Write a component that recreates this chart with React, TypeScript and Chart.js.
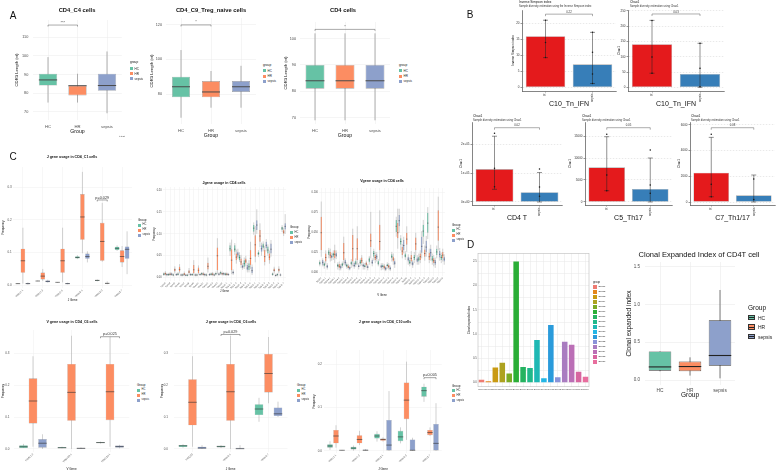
import React, { useEffect, useRef } from 'react';
import { Chart, registerables } from 'chart.js';

Chart.register(...registerables);

const FONT = "'Liberation Sans', Arial, Helvetica, sans-serif";
Chart.defaults.font.family = FONT;

// ---------------- shared ----------------
const GROUPS = ['HC', 'HR', 'sepsis'];
const GROUP_COLORS = ['#66C2A5', '#FC8D62', '#8DA0CB'];

// ---------------- Panel A (box = [lo, q1, median, q3, hi]) ----------------
const aCats = ['HC', 'HR', 'sepsis'];
const a1Boxes = [[75.0, 84.1, 87.1, 90.4, 99.3], [75.0, 78.8, 84.0, 84.1, 90.4], [69.3, 81.3, 84.1, 90.4, 102.3]];
const a1Ticks = [70, 80, 90, 100, 110];
const a1Sig = [{ from: [0, 0], to: [0, 1], y: 116.4, text: '***' }];
const a2Boxes = [[66.3, 78.1, 84.2, 90.0, 105.4], [72.1, 78.1, 81.2, 87.5, 93.3], [72.1, 81.2, 84.2, 87.5, 96.3]];
const a2Ticks = [80, 100, 120];
const a2Sig = [{ from: [0, 0], to: [0, 1], y: 119.9, text: '*' }];
const a3Boxes = [[69, 81, 84, 90, 102], [69, 81, 84, 90, 102], [69, 81, 84, 90, 102]];
const a3Ticks = [70, 80, 90, 100];
const a3Sig = [{ from: [0, 0], to: [0, 2], y: 103.5, text: '*' }];

// ---------------- Panel B ----------------
const bCats = ['R', 'sepsis'];
const b1Mean = [16, 7.2];
const b1Lo = [9.3, 1.2];
const b1Hi = [21, 17.2];
const b1PtsR = [21, 14, 9.3];
const b1PtsS = [17.2, 11, 4.2, 1.2];
const b1Ticks = [0, 5, 10, 15, 20];
const b1Sig = [{ from: [0, 0], to: [0, 1], y: 22.9, text: '0.22' }];

const b2Mean = [141, 43.5];
const b2Lo = [46, 0];
const b2Hi = [219, 144];
const b2PtsR = [219, 99, 46];
const b2PtsS = [144, 62, 2];
const b2Ticks = [0, 50, 100, 150, 200, 250];
const b2Sig = [{ from: [0, 0], to: [0, 1], y: 240, text: '0.03' }];

const b3Mean = [114000, 34000];
const b3Lo = [44000, 0];
const b3Hi = [228000, 102000];
const b3PtsR = [238000, 117000, 53000];
const b3PtsS = [114000, 52000, 20000];
const b3Ticks = [0, 100000, 200000];
const b3Labels = ['0e+00', '1e+05', '2e+05'];
const b3Sig = [{ from: [0, 0], to: [0, 1], y: 257500, text: '0.02' }];

const b4Mean = [7890, 2950];
const b4Lo = [2570, 0];
const b4Hi = [14840, 10000];
const b4PtsR = [15380, 6140, 2570];
const b4PtsS = [11800, 3860, 2000];
const b4Ticks = [0, 5000, 10000, 15000];
const b4Sig = [{ from: [0, 0], to: [0, 1], y: 16886, text: '0.05' }];

const b5Mean = [2280, 520];
const b5Lo = [410, 0];
const b5Hi = [5030, 2100];
const b5PtsR = [5270, 1380, 410];
const b5PtsS = [1800, 200];
const b5Ticks = [0, 2000, 4000, 6000];
const b5Sig = [{ from: [0, 0], to: [0, 1], y: 5782, text: '0.08' }];

// ---------------- Panel C ----------------
const c1Cats = ['TRBJ1-1', 'TRBJ1-2', 'TRBJ1-5', 'TRBJ2-1', 'TRBJ2-3', 'TRBJ2-7'];
const c1HC = [[0.004, 0.005, 0.005, 0.006, 0.007], [0.012, 0.013, 0.013, 0.014, 0.015], [0.008, 0.009, 0.009, 0.010, 0.010], [0.080, 0.082, 0.085, 0.089, 0.092], [0.012, 0.013, 0.015, 0.016, 0.018], [0.105, 0.108, 0.113, 0.118, 0.122]];
const c1HR = [[0.005, 0.038, 0.075, 0.112, 0.176], [0.013, 0.018, 0.028, 0.039, 0.050], [0.009, 0.038, 0.075, 0.112, 0.176], [0.098, 0.139, 0.209, 0.279, 0.347], [0.072, 0.075, 0.134, 0.191, 0.252], [0.056, 0.070, 0.088, 0.107, 0.120]];
const c1SE = [[0.002, 0.004, 0.005, 0.007, 0.009], [0.008, 0.009, 0.012, 0.015, 0.017], [0.003, 0.004, 0.005, 0.007, 0.008], [0.070, 0.081, 0.088, 0.097, 0.104], [0.003, 0.005, 0.006, 0.007, 0.012], [0.034, 0.081, 0.110, 0.119, 0.165]];
const c1Ticks = [0, 0.1, 0.2, 0.3];
const c1Labels = ['0.0', '0.1', '0.2', '0.3'];
const c1Sig = [{ from: [0, 4], to: [2, 4], y: 0.261, text: 'p=0.029' }];

const c2Cats = ['TRAJ3', 'TRAJ4', 'TRAJ5', 'TRAJ6', 'TRAJ7', 'TRAJ8', 'TRAJ9', 'TRAJ10', 'TRAJ11', 'TRAJ12', 'TRAJ13', 'TRAJ15', 'TRAJ16', 'TRBJ1-1', 'TRBJ1-2', 'TRBJ1-3', 'TRBJ1-4', 'TRBJ1-5', 'TRBJ1-6', 'TRBJ2-1', 'TRBJ2-2', 'TRBJ2-3', 'TRBJ2-4', 'TRBJ2-5', 'TRBJ2-6', 'TRBJ2-7'];
const c2HC = [[0.004, 0.006, 0.008, 0.010, 0.012], [0.004, 0.005, 0.007, 0.009, 0.011], [0.003, 0.005, 0.006, 0.008, 0.010], [0.004, 0.006, 0.008, 0.010, 0.013], [0.003, 0.005, 0.006, 0.008, 0.010], [0.003, 0.004, 0.006, 0.007, 0.009], [0.004, 0.005, 0.007, 0.009, 0.011], [0.003, 0.005, 0.006, 0.008, 0.010], [0.005, 0.007, 0.009, 0.011, 0.013], [0.003, 0.005, 0.006, 0.008, 0.010], [0.004, 0.006, 0.008, 0.010, 0.012], [0.005, 0.007, 0.009, 0.011, 0.014], [0.006, 0.009, 0.011, 0.013, 0.016], [0.004, 0.006, 0.008, 0.010, 0.012], [0.050, 0.060, 0.066, 0.074, 0.080], [0.052, 0.059, 0.065, 0.074, 0.079], [0.036, 0.040, 0.046, 0.052, 0.058], [0.020, 0.025, 0.032, 0.040, 0.046], [0.012, 0.017, 0.025, 0.033, 0.040], [0.098, 0.105, 0.113, 0.120, 0.126], [0.047, 0.052, 0.055, 0.059, 0.063], [0.060, 0.067, 0.072, 0.078, 0.083], [0.050, 0.055, 0.063, 0.071, 0.076], [0.004, 0.006, 0.008, 0.010, 0.012], [0.003, 0.005, 0.007, 0.009, 0.011], [0.104, 0.109, 0.113, 0.116, 0.120]];
const c2HR = [[0.005, 0.007, 0.009, 0.012, 0.015], [0.004, 0.006, 0.008, 0.010, 0.013], [0.010, 0.014, 0.018, 0.021, 0.026], [0.010, 0.014, 0.019, 0.025, 0.031], [0.004, 0.006, 0.008, 0.011, 0.014], [0.006, 0.010, 0.013, 0.017, 0.022], [0.005, 0.010, 0.018, 0.029, 0.040], [0.007, 0.011, 0.017, 0.023, 0.028], [0.004, 0.006, 0.008, 0.010, 0.013], [0.012, 0.019, 0.026, 0.034, 0.046], [0.004, 0.006, 0.008, 0.010, 0.013], [0.008, 0.017, 0.050, 0.069, 0.090], [0.005, 0.007, 0.009, 0.011, 0.014], [0.004, 0.006, 0.008, 0.010, 0.012], [0.008, 0.017, 0.040, 0.065, 0.087], [0.032, 0.040, 0.047, 0.055, 0.064], [0.022, 0.029, 0.036, 0.044, 0.052], [0.026, 0.033, 0.038, 0.044, 0.050], [0.020, 0.029, 0.044, 0.063, 0.082], [0.035, 0.048, 0.075, 0.097, 0.118], [0.070, 0.082, 0.095, 0.109, 0.124], [0.028, 0.036, 0.048, 0.063, 0.072], [0.032, 0.040, 0.047, 0.055, 0.062], [0.010, 0.014, 0.017, 0.021, 0.025], [0.010, 0.014, 0.018, 0.021, 0.026], [0.095, 0.100, 0.104, 0.109, 0.114]];
const c2SE = [[0.003, 0.005, 0.007, 0.009, 0.011], [0.004, 0.006, 0.008, 0.010, 0.012], [0.004, 0.005, 0.007, 0.009, 0.011], [0.003, 0.005, 0.006, 0.008, 0.010], [0.003, 0.004, 0.006, 0.007, 0.009], [0.004, 0.005, 0.007, 0.009, 0.011], [0.003, 0.005, 0.006, 0.008, 0.010], [0.004, 0.006, 0.007, 0.009, 0.011], [0.003, 0.005, 0.007, 0.009, 0.011], [0.004, 0.005, 0.007, 0.009, 0.011], [0.003, 0.005, 0.006, 0.008, 0.010], [0.004, 0.006, 0.008, 0.010, 0.012], [0.005, 0.007, 0.009, 0.011, 0.013], [0.004, 0.006, 0.007, 0.009, 0.011], [0.006, 0.009, 0.012, 0.015, 0.019], [0.043, 0.048, 0.054, 0.059, 0.066], [0.018, 0.022, 0.025, 0.029, 0.033], [0.012, 0.017, 0.022, 0.029, 0.034], [0.006, 0.010, 0.016, 0.025, 0.030], [0.100, 0.109, 0.120, 0.131, 0.156], [0.050, 0.059, 0.066, 0.074, 0.080], [0.060, 0.067, 0.074, 0.082, 0.088], [0.048, 0.055, 0.065, 0.078, 0.086], [0.002, 0.004, 0.005, 0.007, 0.009], [0.003, 0.005, 0.006, 0.008, 0.010], [0.100, 0.110, 0.117, 0.124, 0.145]];
const c2Ticks = [0, 0.05, 0.1, 0.15, 0.2];
const c2Labels = ['0.00', '0.05', '0.10', '0.15', '0.20'];

const c3Cats = ['TRBV2', 'TRBV3-1', 'TRBV4-1', 'TRBV4-2', 'TRBV4-3', 'TRBV5-1', 'TRBV5-4', 'TRBV5-5', 'TRBV5-6', 'TRBV6-1', 'TRBV6-2', 'TRBV6-4', 'TRBV6-5', 'TRBV6-6', 'TRBV7-2', 'TRBV7-3', 'TRBV7-6', 'TRBV7-8', 'TRBV7-9', 'TRBV9', 'TRBV10-3', 'TRBV11-2', 'TRBV12-3', 'TRBV12-4', 'TRBV13', 'TRBV14', 'TRBV15', 'TRBV18'];
const c3HC = [[0.008, 0.010, 0.012, 0.014, 0.016], [0.005, 0.008, 0.010, 0.012, 0.014], [0.018, 0.022, 0.025, 0.028, 0.031], [0.016, 0.020, 0.023, 0.025, 0.028], [0.004, 0.007, 0.009, 0.011, 0.013], [0.006, 0.008, 0.010, 0.012, 0.014], [0.005, 0.007, 0.009, 0.011, 0.013], [0.006, 0.010, 0.012, 0.014, 0.017], [0.007, 0.010, 0.012, 0.015, 0.018], [0.008, 0.011, 0.013, 0.016, 0.018], [0.004, 0.007, 0.008, 0.010, 0.012], [0.010, 0.013, 0.016, 0.019, 0.021], [0.015, 0.020, 0.024, 0.027, 0.030], [0.008, 0.010, 0.012, 0.015, 0.017], [0.004, 0.007, 0.008, 0.010, 0.012], [0.005, 0.008, 0.009, 0.011, 0.013], [0.014, 0.018, 0.020, 0.023, 0.026], [0.045, 0.051, 0.058, 0.066, 0.070], [0.028, 0.035, 0.039, 0.043, 0.047], [0.016, 0.019, 0.021, 0.024, 0.027], [0.008, 0.011, 0.013, 0.016, 0.019], [0.012, 0.016, 0.019, 0.022, 0.026], [0.010, 0.014, 0.017, 0.020, 0.024], [0.036, 0.045, 0.052, 0.060, 0.066], [0.042, 0.050, 0.062, 0.075, 0.082], [0.010, 0.014, 0.017, 0.021, 0.024], [0.018, 0.022, 0.026, 0.030, 0.034], [0.012, 0.016, 0.019, 0.022, 0.025]];
const c3HR = [[0.020, 0.028, 0.050, 0.070, 0.089], [0.010, 0.014, 0.019, 0.024, 0.028], [0.014, 0.018, 0.022, 0.026, 0.030], [0.012, 0.018, 0.023, 0.028, 0.035], [0.003, 0.006, 0.008, 0.011, 0.014], [0.010, 0.016, 0.025, 0.037, 0.045], [0.004, 0.006, 0.007, 0.009, 0.011], [0.008, 0.014, 0.030, 0.047, 0.055], [0.010, 0.016, 0.030, 0.043, 0.058], [0.009, 0.012, 0.015, 0.019, 0.022], [0.006, 0.009, 0.011, 0.013, 0.015], [0.018, 0.032, 0.040, 0.049, 0.076], [0.012, 0.016, 0.019, 0.022, 0.026], [0.015, 0.028, 0.039, 0.060, 0.078], [0.003, 0.005, 0.007, 0.009, 0.011], [0.004, 0.006, 0.008, 0.010, 0.012], [0.010, 0.014, 0.017, 0.020, 0.024], [0.030, 0.043, 0.050, 0.062, 0.080], [0.018, 0.022, 0.027, 0.032, 0.036], [0.026, 0.035, 0.042, 0.050, 0.058], [0.010, 0.014, 0.018, 0.022, 0.027], [0.020, 0.028, 0.036, 0.044, 0.050], [0.012, 0.016, 0.020, 0.024, 0.028], [0.015, 0.020, 0.024, 0.029, 0.034], [0.012, 0.016, 0.020, 0.025, 0.030], [0.008, 0.012, 0.015, 0.018, 0.022], [0.028, 0.040, 0.057, 0.078, 0.095], [0.014, 0.018, 0.022, 0.026, 0.030]];
const c3SE = [[0.008, 0.010, 0.013, 0.016, 0.018], [0.004, 0.006, 0.008, 0.010, 0.012], [0.015, 0.018, 0.020, 0.022, 0.025], [0.017, 0.020, 0.022, 0.025, 0.028], [0.003, 0.005, 0.007, 0.009, 0.011], [0.008, 0.010, 0.013, 0.016, 0.018], [0.003, 0.004, 0.006, 0.007, 0.009], [0.005, 0.007, 0.009, 0.012, 0.014], [0.004, 0.007, 0.008, 0.010, 0.012], [0.004, 0.007, 0.009, 0.011, 0.013], [0.003, 0.006, 0.007, 0.009, 0.011], [0.008, 0.011, 0.013, 0.016, 0.018], [0.014, 0.017, 0.020, 0.023, 0.026], [0.003, 0.006, 0.008, 0.010, 0.012], [0.002, 0.003, 0.005, 0.007, 0.008], [0.002, 0.004, 0.005, 0.007, 0.009], [0.006, 0.010, 0.012, 0.015, 0.018], [0.050, 0.058, 0.065, 0.072, 0.080], [0.024, 0.028, 0.034, 0.041, 0.045], [0.010, 0.014, 0.017, 0.020, 0.023], [0.006, 0.009, 0.011, 0.014, 0.016], [0.010, 0.013, 0.016, 0.019, 0.022], [0.018, 0.025, 0.033, 0.045, 0.052], [0.020, 0.026, 0.032, 0.040, 0.046], [0.015, 0.020, 0.025, 0.030, 0.035], [0.006, 0.010, 0.013, 0.016, 0.019], [0.015, 0.019, 0.023, 0.027, 0.031], [0.010, 0.014, 0.017, 0.020, 0.023]];
const c3Ticks = [0, 0.025, 0.05, 0.075, 0.1];
const c3Labels = ['0.000', '0.025', '0.050', '0.075', '0.100'];

const c4Cats = ['TRAV1-2', 'TRBV20-1', 'TRBV29-1'];
const c4HC = [[0.003, 0.003, 0.007, 0.012, 0.016], [0.002, 0.002, 0.004, 0.006, 0.007], [0.017, 0.019, 0.020, 0.022, 0.023]];
const c4HR = [[0.007, 0.080, 0.150, 0.221, 0.290], [0.000, 0.088, 0.177, 0.266, 0.354], [0.007, 0.090, 0.179, 0.266, 0.350]];
const c4SE = [[0.000, 0.004, 0.018, 0.031, 0.046], [0.000, 0.001, 0.002, 0.004, 0.005], [0.002, 0.004, 0.008, 0.011, 0.013]];
const c4Sig = [{ from: [0, 2], to: [2, 2], y: 0.351, text: 'p=0.025' }];

const c5Cats = ['TRAJ30', 'TRBJ2-1', 'TRBJ2-7'];
const c5HC = [[0.004, 0.006, 0.010, 0.0125, 0.015], [0.003, 0.005, 0.008, 0.010, 0.012], [0.085, 0.106, 0.125, 0.140, 0.160]];
const c5HR = [[0.007, 0.074, 0.146, 0.218, 0.290], [0.000, 0.088, 0.179, 0.266, 0.354], [0.143, 0.177, 0.236, 0.297, 0.350]];
const c5SE = [[0.000, 0.000, 0.003, 0.007, 0.012], [0.000, 0.000, 0.001, 0.004, 0.012], [0.100, 0.103, 0.110, 0.130, 0.148]];
const c5Sig = [{ from: [0, 1], to: [2, 1], y: 0.358, text: 'p=0.029' }];
const c45Ticks = [0, 0.1, 0.2, 0.3];
const c45Labels = ['0.0', '0.1', '0.2', '0.3'];

const c6Cats = ['TRBJ1-1', 'TRBJ1-2', 'TRBJ2-1', 'TRBJ2-3', 'TRBJ2-7'];
const c6HC = [[0.002, 0.007, 0.011, 0.015, 0.022], [0.000, 0.003, 0.006, 0.009, 0.012], [0.021, 0.028, 0.034, 0.039, 0.045], [0.017, 0.022, 0.032, 0.046, 0.054], [0.113, 0.125, 0.139, 0.148, 0.155]];
const c6HR = [[0.007, 0.017, 0.034, 0.048, 0.059], [0.013, 0.017, 0.026, 0.036, 0.046], [0.021, 0.023, 0.026, 0.028, 0.031], [0.025, 0.073, 0.117, 0.158, 0.206], [0.034, 0.036, 0.042, 0.048, 0.054]];
const c6SE = [[0.000, 0.000, 0.001, 0.001, 0.002], [0.000, 0.000, 0.001, 0.003, 0.004], [0.000, 0.000, 0.013, 0.071, 0.138], [0.000, 0.000, 0.001, 0.026, 0.030], [0.000, 0.000, 0.017, 0.062, 0.110]];
const c6Ticks = [0, 0.1, 0.2];
const c6Labels = ['0.0', '0.1', '0.2'];
const c6Sig = [{ from: [0, 4], to: [2, 4], y: 0.169, text: 'p=0.005' }];

// ---------------- Panel D ----------------
const d1Labels = ['S0001', 'S0002', 'S0003', 'S0004', 'S0005', 'S0006', 'S0007', 'S0008', 'S0009', 'S0010', 'S0011', 'S0012', 'S0013', 'S0014', 'S0015', 'S0016'];
const d1Values = [0.055, 0.027, 0.31, 0.41, 0.185, 2.5, 0.32, 0.30, 0.88, 0.09, 1.19, 0.11, 0.84, 0.78, 0.22, 0.12];
const d1Colors = ['#EE7B72', '#E3861C', '#C99A12', '#ADA220', '#7AAA25', '#2AAE36', '#25B360', '#20B88A', '#1EB8B4', '#23B6E5', '#2A9BDB', '#8A93D9', '#A97CC0', '#BB6FB6', '#D7659F', '#E86E9E'];
const d1Ticks = [0, 0.25, 0.5, 0.75, 1, 1.25, 1.5, 1.75, 2, 2.25, 2.5];
const d1TickLabels = ['0.0', '', '0.5', '', '1.0', '', '1.5', '', '2.0', '', '2.5'];

const d2Boxes = [[0.115, 0.124, 0.173, 0.378, 0.378], [0.058, 0.115, 0.178, 0.244, 0.30], [0.022, 0.19, 0.324, 0.79, 1.19]];
const d2Ticks = [0, 0.5, 1, 1.5];
const d2Labels = ['0.0', '0.5', '1.0', '1.5'];

// ---------------- plugins ----------------
function boxPlugin(st: any) {
  return {
    id: 'boxw',
    beforeDatasetsDraw(chart: any) {
      const ctx = chart.ctx;
      const ys = chart.scales.y;
      ctx.save();
      ctx.strokeStyle = st.whisker;
      ctx.lineWidth = st.whiskerW;
      chart.data.datasets.forEach((ds: any, di: number) => {
        if (!ds.boxes) return;
        chart.getDatasetMeta(di).data.forEach((el: any, i: number) => {
          const b = ds.boxes[i];
          ctx.beginPath();
          ctx.moveTo(el.x, ys.getPixelForValue(b[0]));
          ctx.lineTo(el.x, ys.getPixelForValue(b[4]));
          ctx.stroke();
        });
      });
      ctx.restore();
    },
    afterDatasetsDraw(chart: any) {
      const ctx = chart.ctx;
      const ys = chart.scales.y;
      ctx.save();
      ctx.strokeStyle = st.median;
      ctx.lineWidth = st.medianW;
      chart.data.datasets.forEach((ds: any, di: number) => {
        if (!ds.boxes) return;
        chart.getDatasetMeta(di).data.forEach((el: any, i: number) => {
          const b = ds.boxes[i];
          const y = ys.getPixelForValue(b[2]);
          ctx.beginPath();
          ctx.moveTo(el.x - el.width / 2, y);
          ctx.lineTo(el.x + el.width / 2, y);
          ctx.stroke();
        });
      });
      ctx.restore();
    },
  };
}

function sigPlugin(items: any[], st: any) {
  return {
    id: 'sig',
    afterDatasetsDraw(chart: any) {
      const ctx = chart.ctx;
      const ys = chart.scales.y;
      ctx.save();
      ctx.strokeStyle = st.color;
      ctx.fillStyle = st.color;
      ctx.lineWidth = st.width;
      ctx.font = `${st.font}px ${FONT}`;
      ctx.textAlign = 'center';
      ctx.textBaseline = 'bottom';
      items.forEach((it) => {
        const x0 = chart.getDatasetMeta(it.from[0]).data[it.from[1]].x;
        const x1 = chart.getDatasetMeta(it.to[0]).data[it.to[1]].x;
        const y = ys.getPixelForValue(it.y);
        ctx.beginPath();
        ctx.moveTo(x0, y + st.drop);
        ctx.lineTo(x0, y);
        ctx.lineTo(x1, y);
        ctx.lineTo(x1, y + st.drop);
        ctx.stroke();
        ctx.fillText(it.text, (x0 + x1) / 2, y - st.gap);
      });
      ctx.restore();
    },
  };
}

function errPlugin(lo: number[], hi: number[], st: any) {
  return {
    id: 'errbar',
    afterDatasetsDraw(chart: any) {
      const ctx = chart.ctx;
      const ys = chart.scales.y;
      ctx.save();
      ctx.strokeStyle = st.color;
      ctx.lineWidth = st.width;
      chart.getDatasetMeta(0).data.forEach((el: any, i: number) => {
        const y0 = ys.getPixelForValue(lo[i]);
        const y1 = ys.getPixelForValue(hi[i]);
        ctx.beginPath();
        ctx.moveTo(el.x, y0);
        ctx.lineTo(el.x, y1);
        ctx.moveTo(el.x - st.cap, y0);
        ctx.lineTo(el.x + st.cap, y0);
        ctx.moveTo(el.x - st.cap, y1);
        ctx.lineTo(el.x + st.cap, y1);
        ctx.stroke();
      });
      ctx.restore();
    },
  };
}

function framePlugin(color: string, width: number) {
  return {
    id: 'frame',
    afterDraw(chart: any) {
      const { left, top, right, bottom } = chart.chartArea;
      const ctx = chart.ctx;
      ctx.save();
      ctx.strokeStyle = color;
      ctx.lineWidth = width;
      ctx.strokeRect(left, top, right - left, bottom - top);
      ctx.restore();
    },
  };
}

// ---------------- axes builder ----------------
function axes(g: any, a: any) {
  const f = (size: number) => ({ size, family: FONT });
  const tickLen = a.tickLen || 0;
  return {
    x: {
      type: 'category',
      offset: true,
      grid: {
        display: !!a.gridX || tickLen > 0,
        drawOnChartArea: !!a.gridX,
        color: a.gridColor,
        lineWidth: a.gridW,
        offset: false,
        drawTicks: tickLen > 0,
        tickLength: tickLen,
        tickColor: a.axisColor,
        tickWidth: 0.5,
      },
      border: { display: !!a.axisLine, color: a.axisColor, width: 0.6 },
      ticks: {
        autoSkip: false,
        minRotation: a.xRot || 0,
        maxRotation: a.xRot || 0,
        padding: a.xPad,
        color: a.tickColor,
        font: f(a.xFont),
      },
      title: {
        display: !!a.xTitle,
        text: a.xTitle || '',
        color: '#111',
        font: f(a.xTitleFont || 5),
        padding: { top: 0, bottom: a.xTitlePad || 0 },
      },
      afterFit: (sc: any) => {
        sc.height = g.xH;
      },
    },
    y: {
      type: 'linear',
      min: a.ymin,
      max: a.ymax,
      afterBuildTicks: (sc: any) => {
        sc.ticks = a.yTicks.map((v: number) => ({ value: v }));
      },
      grid: {
        display: true,
        drawOnChartArea: a.gridY !== false,
        color: a.gridColor,
        lineWidth: a.gridW,
        drawTicks: tickLen > 0,
        tickLength: tickLen,
        tickColor: a.axisColor,
        tickWidth: 0.5,
      },
      border: { display: !!a.axisLine, color: a.axisColor, width: 0.6, dash: a.gridDash || [] },
      ticks: {
        padding: a.yPad,
        color: a.tickColor,
        font: f(a.yFont),
        callback: (v: number) => {
          const i = a.yTicks.indexOf(v);
          return i >= 0 ? a.yLabels[i] : '';
        },
      },
      title: {
        display: !!a.yTitle,
        text: a.yTitle || '',
        color: '#111',
        font: f(a.yTitleFont || 4),
        padding: { top: a.yTitlePad || 0, bottom: 0 },
      },
      afterFit: (sc: any) => {
        sc.width = g.yW;
      },
    },
  };
}

function boxChart(g: any, s: any) {
  const datasets = s.series.map((se: any) => ({
    label: se.name,
    data: se.boxes.map((b: number[]) => [b[1], b[3]]),
    boxes: se.boxes,
    backgroundColor: se.color,
    borderColor: s.style.border,
    borderWidth: s.style.borderW,
    borderSkipped: false,
    categoryPercentage: s.catPct,
    barPercentage: s.barPct,
  }));
  const plugins: any[] = [boxPlugin(s.style)];
  if (s.sig) plugins.push(sigPlugin(s.sig, s.sigStyle));
  return {
    type: 'bar',
    data: { labels: s.cats, datasets },
    options: { scales: axes(g, s.axes), plugins: { legend: { display: false }, tooltip: { enabled: false } } },
    plugins,
  };
}

function barErrChart(g: any, s: any) {
  const pts = [
    ...s.ptsR.map((v: number) => ({ x: bCats[0], y: v })),
    ...s.ptsS.map((v: number) => ({ x: bCats[1], y: v })),
  ];
  return {
    type: 'bar',
    data: {
      labels: bCats,
      datasets: [
        {
          type: 'bar',
          data: s.mean,
          backgroundColor: ['#E41A1C', '#377EB8'],
          borderColor: '#A8A8A8',
          borderWidth: 0.6,
          borderSkipped: false,
          categoryPercentage: 1,
          barPercentage: 0.84,
          order: 2,
        },
        {
          type: 'line',
          data: pts,
          showLine: false,
          pointRadius: 0.75,
          pointBorderWidth: 0,
          pointBackgroundColor: '#111',
          order: 1,
        },
      ],
    },
    options: { scales: axes(g, s.axes), plugins: { legend: { display: false }, tooltip: { enabled: false } } },
    plugins: [errPlugin(s.lo, s.hi, { color: '#222', width: 0.5, cap: 2.5 }), sigPlugin(s.sig, B_SIG)],
  };
}

// ---------------- styles ----------------
const A_STYLE = { border: 'rgba(90,90,90,0.55)', borderW: 0.6, median: '#4A4A4A', medianW: 1.0, whisker: '#9A9A9A', whiskerW: 0.8 };
const A_SIG = { color: '#555', width: 0.5, drop: 1.5, gap: 0.6, font: 4 };
const A_AX = { gridX: true, gridColor: '#EBEBEB', gridW: 0.5, axisColor: '#333', tickColor: '#4D4D4D', xFont: 4.2, xTitle: 'Group', xTitleFont: 5.2, xTitlePad: 0.9, yFont: 3.8, yTitle: 'CDR3 Length (nt)', yTitleFont: 4.2 };

const B_SIG = { color: '#333', width: 0.4, drop: 2, gap: 0.6, font: 2.8 };
const B_AX = { gridX: false, gridColor: '#C8C8C8', gridW: 0.4, gridDash: [1.5, 1.5], axisLine: true, axisColor: '#333', tickLen: 1.5, tickColor: '#333', xRot: 90, xFont: 3, xPad: 1, xTitleFont: 7, xTitlePad: 0.5, yFont: 3, yPad: 1, yTitleFont: 3, yTitlePad: 2.2 };

const C_STYLE = { border: 'rgba(80,80,80,0.6)', borderW: 0.35, median: '#333', medianW: 0.6, whisker: '#9A9A9A', whiskerW: 0.45 };
const C_SIG = { color: '#333', width: 0.45, drop: 1.5, gap: 0.6, font: 3.8 };
const C_AX = { gridX: true, gridColor: '#EEEEEE', gridW: 0.5, axisColor: '#333', tickColor: '#4D4D4D', xRot: 45, xFont: 2.5, xPad: 1, xTitleFont: 3, yFont: 3, yTitle: 'Frequency', yTitleFont: 3 };

const D2_STYLE = { border: '#333', borderW: 0.7, median: '#222', medianW: 1.1, whisker: '#444', whiskerW: 0.7 };

// ---------------- components ----------------
function ChartCanvas({ plot, yW, xH, padT = 8, padR = 6, build }: any) {
  const ref = useRef<HTMLCanvasElement>(null);
  const left = Math.floor(plot.l - yW);
  const top = Math.floor(plot.t - padT);
  const width = Math.ceil(plot.r + padR - left);
  const height = Math.ceil(plot.b + xH - top);
  const g = { yW: plot.l - left, xH: top + height - plot.b, padT: plot.t - top, padR: left + width - plot.r };
  useEffect(() => {
    const cfg: any = build(g);
    cfg.options = {
      ...cfg.options,
      responsive: false,
      maintainAspectRatio: false,
      animation: false,
      events: [],
      layout: { padding: { top: g.padT, right: g.padR, left: 0, bottom: 0 } },
    };
    const chart = new Chart(ref.current as HTMLCanvasElement, cfg);
    return () => chart.destroy();
  }, []);
  return (
    <canvas
      ref={ref}
      width={width}
      height={height}
      style={{ position: 'absolute', left, top, width, height }}
    />
  );
}

function Txt({ x, y, s, size, bold = false, align = 'center', color = '#111' }: any) {
  const tx = align === 'center' ? '-50%' : align === 'right' ? '-100%' : '0';
  return (
    <div
      style={{
        position: 'absolute',
        left: x,
        top: y,
        transform: `translate(${tx}, -50%)`,
        fontSize: size,
        fontWeight: bold ? 700 : 400,
        color,
        whiteSpace: 'nowrap',
        lineHeight: 1,
        fontFamily: FONT,
      }}
    >
      {s}
    </div>
  );
}

function Legend({ x, y, title, labels, colors, first, step, keyW, keyH, font, titleFont, dx, boxKey = false }: any) {
  return (
    <>
      <Txt x={x} y={y} s={title} size={titleFont} align="left" />
      {labels.map((lab: string, i: number) => {
        const cy = y + first + step * i;
        return (
          <React.Fragment key={lab + i}>
            <div
              style={{
                position: 'absolute',
                left: x,
                top: cy - keyH / 2,
                width: keyW,
                height: keyH,
                background: colors[i],
                border: boxKey ? '1px solid #333' : 'none',
                boxSizing: 'border-box',
              }}
            >
              {boxKey && (
                <div style={{ position: 'absolute', left: 0, right: 0, top: keyH / 2 - 1.5, height: 1, background: '#222' }} />
              )}
            </div>
            <Txt x={x + dx} y={cy} s={lab} size={font} align="left" color="#222" />
          </React.Fragment>
        );
      })}
    </>
  );
}

const groupSeries = (hc: number[][], hr: number[][], se: number[][]) => [
  { name: GROUPS[0], color: GROUP_COLORS[0], boxes: hc },
  { name: GROUPS[1], color: GROUP_COLORS[1], boxes: hr },
  { name: GROUPS[2], color: GROUP_COLORS[2], boxes: se },
];

export default function App() {
  const smallLegend = { labels: GROUPS, colors: GROUP_COLORS, first: 5.2, step: 5.2, keyW: 3.3, keyH: 3, font: 3, titleFont: 3.2, dx: 4.6 };
  const cLegend = { labels: GROUPS, colors: GROUP_COLORS, first: 5.2, step: 5, keyW: 3.3, keyH: 3, font: 2.6, titleFont: 3, dx: 4.6 };
  const denseStyle = { ...C_STYLE, borderW: 0.25, medianW: 0.45, whiskerW: 0.45 };
  return (
    <div style={{ position: 'absolute', left: 0, top: 0, width: 779, height: 471, background: '#fff', overflow: 'hidden', fontFamily: FONT }}>
      {/* ---------- Panel A ---------- */}
      <ChartCanvas
        plot={{ l: 33.25, r: 121.75, t: 20, b: 120 }}
        yW={21}
        xH={16}
        build={(g: any) =>
          boxChart(g, {
            cats: aCats,
            series: [{ name: 'group', color: GROUP_COLORS, boxes: a1Boxes }],
            catPct: 1,
            barPct: 0.62,
            style: A_STYLE,
            sig: a1Sig,
            sigStyle: A_SIG,
            axes: { ...A_AX, ymin: 65.7, ymax: 119.1, yTicks: a1Ticks, yLabels: a1Ticks.map(String), xPad: 4, yPad: 5, yTitlePad: 2.5 },
          })
        }
      />
      <ChartCanvas
        plot={{ l: 166, r: 256, t: 18, b: 124 }}
        yW={20}
        xH={16}
        build={(g: any) =>
          boxChart(g, {
            cats: aCats,
            series: [{ name: 'group', color: GROUP_COLORS, boxes: a2Boxes }],
            catPct: 1,
            barPct: 0.6,
            style: A_STYLE,
            sig: a2Sig,
            sigStyle: A_SIG,
            axes: { ...A_AX, ymin: 62.7, ymax: 123.9, yTicks: a2Ticks, yLabels: a2Ticks.map(String), xPad: 4.5, yPad: 4, yTitlePad: 3.2 },
          })
        }
      />
      <ChartCanvas
        plot={{ l: 300, r: 390, t: 22, b: 124 }}
        yW={19}
        xH={16}
        build={(g: any) =>
          boxChart(g, {
            cats: aCats,
            series: [{ name: 'group', color: GROUP_COLORS, boxes: a3Boxes }],
            catPct: 1,
            barPct: 0.63,
            style: A_STYLE,
            sig: a3Sig,
            sigStyle: A_SIG,
            axes: { ...A_AX, ymin: 67.6, ymax: 106.3, yTicks: a3Ticks, yLabels: a3Ticks.map(String), xPad: 4.5, yPad: 4, yTitlePad: 2.5 },
          })
        }
      />

      {/* ---------- Panel B ---------- */}
      <ChartCanvas
        plot={{ l: 522, r: 616, t: 10, b: 91 }}
        yW={13}
        xH={18}
        build={(g: any) =>
          barErrChart(g, {
            mean: b1Mean, lo: b1Lo, hi: b1Hi, ptsR: b1PtsR, ptsS: b1PtsS, sig: b1Sig,
            axes: { ...B_AX, ymin: -1.15, ymax: 24.2, yTicks: b1Ticks, yLabels: b1Ticks.map(String), xTitle: 'C10_Tn_IFN', yTitle: 'Inverse Simpson index' },
          })
        }
      />
      <ChartCanvas
        plot={{ l: 628, r: 724, t: 10, b: 91 }}
        yW={13}
        xH={18}
        build={(g: any) =>
          barErrChart(g, {
            mean: b2Mean, lo: b2Lo, hi: b2Hi, ptsR: b2PtsR, ptsS: b2PtsS, sig: b2Sig,
            axes: { ...B_AX, ymin: -12.1, ymax: 253, yTicks: b2Ticks, yLabels: b2Ticks.map(String), xTitle: 'C10_Tn_IFN', yTitle: 'Chao1' },
          })
        }
      />
      <ChartCanvas
        plot={{ l: 472, r: 562, t: 122, b: 205 }}
        yW={15}
        xH={18}
        build={(g: any) =>
          barErrChart(g, {
            mean: b3Mean, lo: b3Lo, hi: b3Hi, ptsR: b3PtsR, ptsS: b3PtsS, sig: b3Sig,
            axes: { ...B_AX, ymin: -10400, ymax: 277300, yTicks: b3Ticks, yLabels: b3Labels, xTitle: 'CD4 T', yTitle: 'Chao1' },
          })
        }
      />
      <ChartCanvas
        plot={{ l: 585, r: 672, t: 122, b: 205 }}
        yW={19}
        xH={18}
        build={(g: any) =>
          barErrChart(g, {
            mean: b4Mean, lo: b4Lo, hi: b4Hi, ptsR: b4PtsR, ptsS: b4PtsS, sig: b4Sig,
            axes: { ...B_AX, ymin: -682, ymax: 18182, yTicks: b4Ticks, yLabels: b4Ticks.map(String), xTitle: 'C5_Th17', yTitle: 'Chao1' },
          })
        }
      />
      <ChartCanvas
        plot={{ l: 690, r: 777, t: 122, b: 205 }}
        yW={14}
        xH={18}
        padR={2}
        build={(g: any) =>
          barErrChart(g, {
            mean: b5Mean, lo: b5Lo, hi: b5Hi, ptsR: b5PtsR, ptsS: b5PtsS, sig: b5Sig,
            axes: { ...B_AX, ymin: -233, ymax: 6226, yTicks: b5Ticks, yLabels: b5Ticks.map(String), xTitle: 'C7_Th1/17', yTitle: 'Chao1', yTitlePad: 1.6 },
          })
        }
      />

      {/* ---------- Panel C ---------- */}
      <ChartCanvas
        plot={{ l: 13, r: 132, t: 167, b: 288 }}
        yW={13}
        xH={16}
        build={(g: any) =>
          boxChart(g, {
            cats: c1Cats,
            series: groupSeries(c1HC, c1HR, c1SE),
            catPct: 0.756,
            barPct: 0.9,
            style: C_STYLE,
            sig: c1Sig,
            sigStyle: C_SIG,
            axes: { ...C_AX, ymin: -0.0083, ymax: 0.3618, yTicks: c1Ticks, yLabels: c1Labels, yPad: 1.3, yTitlePad: 1.5, xTitle: 'J Gene', xTitlePad: 2.2 },
          })
        }
      />
      <ChartCanvas
        plot={{ l: 163, r: 286, t: 187, b: 281 }}
        yW={12}
        xH={13}
        build={(g: any) =>
          boxChart(g, {
            cats: c2Cats,
            series: groupSeries(c2HC, c2HR, c2SE),
            catPct: 0.98,
            barPct: 1,
            style: denseStyle,
            axes: { ...C_AX, xFont: 2.1, yFont: 2.6, yTitleFont: 2.8, ymin: -0.0075, ymax: 0.2068, yTicks: c2Ticks, yLabels: c2Labels, yPad: 1.3, yTitlePad: 1.2, xTitle: 'J Gene', xTitleFont: 2.8, xTitlePad: 1.5 },
          })
        }
      />
      <ChartCanvas
        plot={{ l: 319, r: 445, t: 188, b: 276 }}
        yW={14}
        xH={22}
        build={(g: any) =>
          boxChart(g, {
            cats: c3Cats,
            series: groupSeries(c3HC, c3HR, c3SE),
            catPct: 0.98,
            barPct: 1,
            style: denseStyle,
            axes: { ...C_AX, xFont: 2.1, yFont: 2.6, yTitleFont: 2.8, ymin: -0.0041, ymax: 0.1059, yTicks: c3Ticks, yLabels: c3Labels, yPad: 1, yTitlePad: 2.2, xTitle: 'V Gene', xTitleFont: 2.8, xTitlePad: 1.2 },
          })
        }
      />
      <ChartCanvas
        plot={{ l: 13.75, r: 129.25, t: 330, b: 452 }}
        yW={13.75}
        xH={19}
        build={(g: any) =>
          boxChart(g, {
            cats: c4Cats,
            series: groupSeries(c4HC, c4HR, c4SE),
            catPct: 0.74,
            barPct: 0.9,
            style: C_STYLE,
            sig: c4Sig,
            sigStyle: C_SIG,
            axes: { ...C_AX, ymin: -0.0094, ymax: 0.372, yTicks: c45Ticks, yLabels: c45Labels, yPad: 4.4, yTitlePad: 0.9, xTitle: 'V Gene', xTitlePad: 0.3 },
          })
        }
      />
      <ChartCanvas
        plot={{ l: 173.5, r: 287.5, t: 330, b: 452 }}
        yW={15.5}
        xH={19}
        build={(g: any) =>
          boxChart(g, {
            cats: c5Cats,
            series: groupSeries(c5HC, c5HR, c5SE),
            catPct: 0.75,
            barPct: 0.9,
            style: C_STYLE,
            sig: c5Sig,
            sigStyle: C_SIG,
            axes: { ...C_AX, ymin: -0.0094, ymax: 0.372, yTicks: c45Ticks, yLabels: c45Labels, yPad: 5.5, yTitlePad: 2.5, xTitle: 'J Gene', xTitlePad: 0.3 },
          })
        }
      />
      <ChartCanvas
        plot={{ l: 324.25, r: 441.75, t: 350, b: 453 }}
        yW={14.25}
        xH={18}
        build={(g: any) =>
          boxChart(g, {
            cats: c6Cats,
            series: groupSeries(c6HC, c6HR, c6SE),
            catPct: 0.766,
            barPct: 0.92,
            style: C_STYLE,
            sig: c6Sig,
            sigStyle: C_SIG,
            axes: { ...C_AX, ymin: -0.0053, ymax: 0.233, yTicks: c6Ticks, yLabels: c6Labels, yPad: 2.25, yTitlePad: 2.2, xTitle: 'J Gene', xTitlePad: 0.3 },
          })
        }
      />

      {/* ---------- Panel D ---------- */}
      <ChartCanvas
        plot={{ l: 478, r: 589, t: 253.3, b: 386.7 }}
        yW={12}
        xH={6}
        padR={4}
        build={(g: any) => ({
          type: 'bar',
          data: {
            labels: d1Labels,
            datasets: [
              {
                data: d1Values,
                backgroundColor: d1Colors,
                borderWidth: 0,
                categoryPercentage: 1,
                barPercentage: 0.8,
              },
            ],
          },
          options: {
            scales: axes(g, {
              gridX: true, gridColor: '#E6E6E6', gridW: 0.5, axisColor: '#333', tickColor: '#4D4D4D',
              xFont: 2.3, xPad: 1.2, yFont: 2.8, yPad: 1.2, yTitle: 'Clonal expanded index', yTitleFont: 2.8, yTitlePad: 1.8,
              ymin: -0.087, ymax: 2.67, yTicks: d1Ticks, yLabels: d1TickLabels,
            }),
            plugins: { legend: { display: false }, tooltip: { enabled: false } },
          },
          plugins: [framePlugin('#BDBDBD', 0.6)],
        })}
      />
      <ChartCanvas
        plot={{ l: 645, r: 735, t: 262, b: 385 }}
        yW={23}
        xH={15}
        build={(g: any) =>
          boxChart(g, {
            cats: aCats,
            series: [{ name: 'Group', color: GROUP_COLORS, boxes: d2Boxes }],
            catPct: 1,
            barPct: 0.75,
            style: D2_STYLE,
            axes: {
              gridX: true, gridColor: '#EBEBEB', gridW: 0.6, axisColor: '#333', tickColor: '#4D4D4D',
              xFont: 4.8, xPad: 2.5, xTitle: 'Group', xTitleFont: 6.5, xTitlePad: 0.4,
              yFont: 4.5, yPad: 5, yTitle: 'Clonal expanded index', yTitleFont: 6.5, yTitlePad: 3.1,
              ymin: -0.066, ymax: 1.56, yTicks: d2Ticks, yLabels: d2Labels,
            },
          })
        }
      />

      {/* ---------- Panel letters ---------- */}
      <Txt x={13} y={15.5} s="A" size={10} />
      <Txt x={470} y={14.5} s="B" size={10} />
      <Txt x={13} y={157} s="C" size={10} />
      <Txt x={470.5} y={244.5} s="D" size={10} />

      {/* ---------- A titles & legends ---------- */}
      <Txt x={77} y={11} s="CD4_C4 cells" size={5.8} bold />
      <Txt x={211} y={11} s="CD4_C9_Treg_naive cells" size={5.8} bold />
      <Txt x={343} y={11} s="CD4 cells" size={5.8} bold />
      <Txt x={122} y={137} s="t.test" size={2.5} color="#444" />
      <Legend x={130} y={63.3} title="group" {...smallLegend} />
      <Legend x={263} y={65.7} title="group" {...smallLegend} />
      <Legend x={399} y={65.7} title="group" {...smallLegend} />

      {/* ---------- B titles ---------- */}
      <Txt x={519} y={2.6} s="Inverse Simpson index" size={3.2} align="left" />
      <Txt x={519} y={6.6} s="Sample diversity estimation using the Inverse Simpson index" size={2.7} align="left" color="#333" />
      <Txt x={630} y={2.6} s="Chao1" size={3.2} align="left" />
      <Txt x={630} y={6.6} s="Sample diversity estimation using Chao1" size={2.7} align="left" color="#333" />
      <Txt x={473} y={117} s="Chao1" size={3.2} align="left" />
      <Txt x={473} y={121} s="Sample diversity estimation using Chao1" size={2.7} align="left" color="#333" />
      <Txt x={582} y={117} s="Chao1" size={3.2} align="left" />
      <Txt x={582} y={121} s="Sample diversity estimation using Chao1" size={2.7} align="left" color="#333" />
      <Txt x={691} y={117} s="Chao1" size={3.2} align="left" />
      <Txt x={691} y={121} s="Sample diversity estimation using Chao1" size={2.7} align="left" color="#333" />

      {/* ---------- C titles & legends ---------- */}
      <Txt x={72} y={157.5} s="J gene usage in CD4_C1 cells" size={3.6} bold />
      <Txt x={224} y={183.5} s="Jgene usage in CD4 cells" size={3.6} bold />
      <Txt x={382} y={182} s="Vgene usage in CD4 cells" size={3.6} bold />
      <Txt x={72} y={322.7} s="V gene usage in CD4_C6 cells" size={3.6} bold />
      <Txt x={231} y={322.7} s="J gene usage in CD4_C6 cells" size={3.6} bold />
      <Txt x={385} y={322.7} s="J gene usage in CD4_C10 cells" size={3.6} bold />
      <Legend x={138} y={220} title="Group" {...cLegend} />
      <Legend x={290} y={227.3} title="Group" {...cLegend} />
      <Legend x={452} y={225} title="Group" {...cLegend} />
      <Legend x={137} y={385} title="Group" {...cLegend} />
      <Legend x={297} y={385} title="Group" {...cLegend} />
      <Legend x={452} y={385.7} title="Group" {...cLegend} />

      {/* ---------- D titles & legends ---------- */}
      <Legend x={593} y={281.7} title="group" labels={d1Labels} colors={d1Colors} first={5} step={5} keyW={4} keyH={4.2} font={2.4} titleFont={2.8} dx={5.5} />
      <Txt x={699} y={254.5} s="Clonal Expanded Index of CD4T cell" size={7.5} />
      <Legend x={748} y={308.3} title="Group" labels={GROUPS} colors={GROUP_COLORS} first={9.4} step={9.5} keyW={6.5} keyH={5.5} font={5} titleFont={6.5} dx={10} boxKey />
    </div>
  );
}
